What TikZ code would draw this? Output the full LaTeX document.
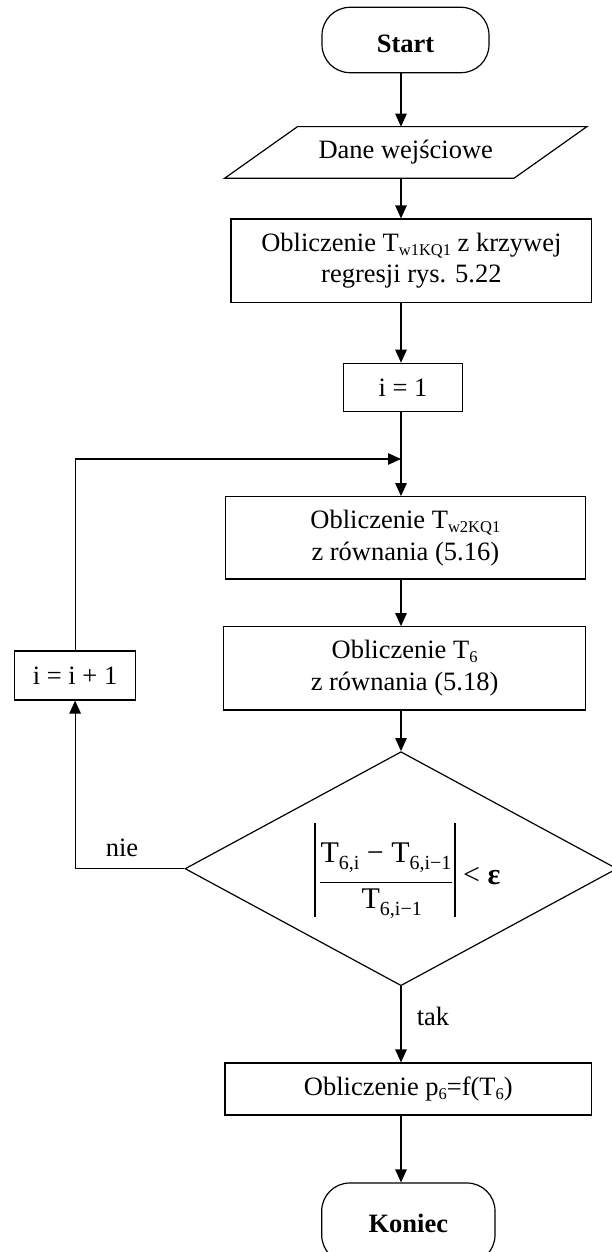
\documentclass[tikz,border=0pt]{standalone}
\usepackage{fontspec}
\setmainfont{Liberation Serif}
\usetikzlibrary{arrows.meta,calc,shapes.geometric}
\newcommand{\sbs}[1]{\raisebox{-4pt}{\fontsize{16.5}{16.5}\selectfont #1}}
\newcommand{\fsb}[1]{\raisebox{-7pt}{\fontsize{20}{20}\selectfont #1}}
\begin{document}
\begin{tikzpicture}[x=1pt,y=-1pt,
  every node/.style={font=\fontsize{26.5}{31.6}\selectfont, inner sep=0pt},
  ln/.style={line width=1.2pt},
  box/.style={draw, ln, rectangle, align=center},
  term/.style={draw, ln, rounded corners=28pt, font=\fontsize{26.5}{31.6}\selectfont\bfseries},
  flow/.style={ln, -{Triangle[length=13pt,width=11.5pt]}},
  ftext/.style={font=\fontsize{30}{30}\selectfont}]
\useasboundingbox (0,0) rectangle (612,1252);
\coordinate (ax) at (401,0);
% nodes
\node[term, minimum width=167pt, minimum height=65.4pt, text height=25.6pt, text depth=0pt] (start) at (405.5,40) {Start};
\node[minimum width=289pt, minimum height=51.3pt] (dane) at (405.7,152.5) {Dane wejściowe};
\draw[ln] ($(dane.north west)+(36.5,0)$) -- ($(dane.north east)+(36.5,0)$) -- ($(dane.south east)+(-36.5,0)$) -- ($(dane.south west)+(-36.5,0)$) -- cycle;
\node[box, minimum width=360.7pt, minimum height=83.3pt] (calc1) at (411.35,260.65) {Obliczenie T\sbs{w1KQ1} z krzywej\\regresji rys. 5.22};
\node[box, minimum width=119.4pt, minimum height=48.4pt] (i1) at (403,387.5) {i = 1};
\coordinate (join) at (401,459);
\node[box, minimum width=360.3pt, minimum height=82.3pt] (calc2) at (405.35,537.85) {Obliczenie T\sbs{w2KQ1}\\z równania (5.16)};
\node[box, minimum width=361.8pt, minimum height=83.3pt] (calc3) at (404.6,668.35) {Obliczenie T\sbs{6}\\z równania (5.18)};
\node[box, minimum width=120.6pt, minimum height=49pt] (inc) at (75.1,675.5) {i = i + 1};
\node[draw, ln, diamond, minimum width=432pt, minimum height=234pt] (dec) at (401,868.7) {};
\node[box, minimum width=366.7pt, minimum height=52pt] (final) at (408.35,1089) {Obliczenie p\sbs{6}=f(T\sbs{6})};
\node[term, minimum width=173.3pt, minimum height=80pt] (koniec) at (408.35,1223) {Koniec};
% formula
\node[ftext, anchor=base] (num) at (386,862) {T\fsb{6,i} − T\fsb{6,i−1}};
\node[ftext, anchor=base] (den) at (391.7,908) {T\fsb{6,i−1}};
\draw[line width=1.3pt] (320,882.7) -- (451.7,882.7);
\draw[ln] (315,823) -- (315,916.7);
\draw[ln] (455,823) -- (455,916.7);
\node[ftext, anchor=base west] (lt) at (463,884) {< \textbf{ε}};
% labels
\node[anchor=base] (nie) at (122,856.7) {nie};
\node[anchor=base] (tak) at (433,1025) {tak};
% connectors
\draw[flow] (start.south -| ax) -- (dane.north -| ax);
\draw[flow] (dane.south -| ax) -- (calc1.north -| ax);
\draw[flow] (calc1.south -| ax) -- (i1.north -| ax);
\draw[ln] (i1.south -| ax) -- (join);
\draw[flow] (join) -- (calc2.north -| ax);
\draw[flow] (calc2.south -| ax) -- (calc3.north -| ax);
\draw[flow] (calc3.south -| ax) -- (dec.north);
\draw[flow] (dec.south) -- (final.north -| ax);
\draw[flow] (final.south -| ax) -- (koniec.north -| ax);
\draw[flow] (dec.west) -| (inc.south);
\draw[flow] (inc.north) |- (join);
\end{tikzpicture}
\end{document}
